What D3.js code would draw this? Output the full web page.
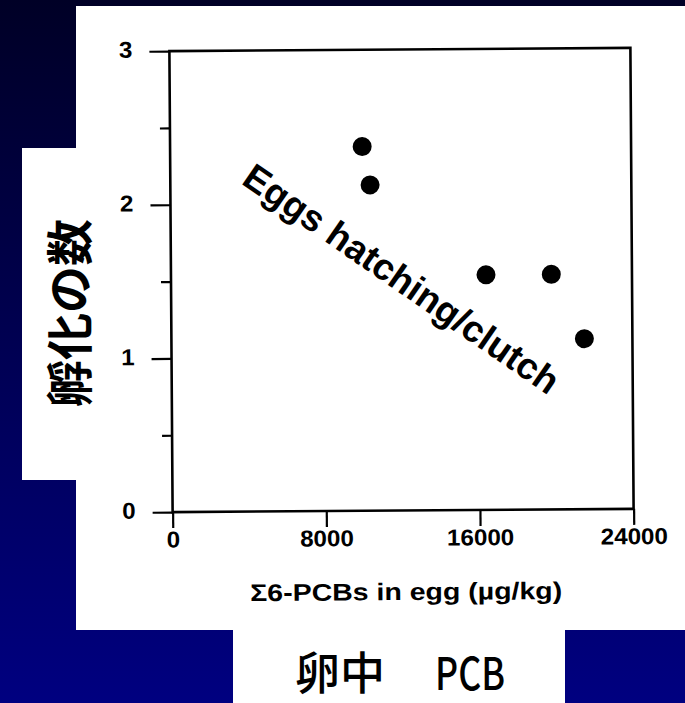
<!DOCTYPE html>
<html><head><meta charset="utf-8">
<script src="https://cdn.jsdelivr.net/npm/d3@7"></script>
<style>html,body{margin:0;padding:0;background:#000050;overflow:hidden}</style>
</head><body>
<script>
// ---- data ----
const pcb = [10000, 10400, 16400, 19800, 21500];
const hatch = [2.37, 2.12, 1.53, 1.53, 1.11];
const xTicks = [0, 8000, 16000, 24000];
const yMajor = [0, 1, 2, 3];
const yMinor = [0.5, 1.5, 2.5];
const xTitle = "Σ6-PCBs in egg (µg/kg)";
const yTitleJa = "孵化の数";
const xTitleJa = ["卵中", "PCB"];
const annotation = "Eggs hatching/clutch";

const W = 685, H = 703;
const svg = d3.select("body").append("svg").attr("width", W).attr("height", H);
const defs = svg.append("defs");
const grad = defs.append("linearGradient").attr("id", "bg")
  .attr("x1", 0).attr("y1", 0).attr("x2", 0).attr("y2", 1);
grad.append("stop").attr("offset", "0%").attr("stop-color", "#000026");
grad.append("stop").attr("offset", "100%").attr("stop-color", "#000080");
svg.append("rect").attr("width", W).attr("height", H).attr("fill", "url(#bg)");
svg.append("rect").attr("x", 22).attr("y", 148).attr("width", 60).attr("height", 332).attr("fill", "#fff");
svg.append("rect").attr("x", 76).attr("y", 6).attr("width", W - 76).attr("height", 624).attr("fill", "#fff");
svg.append("rect").attr("x", 233).attr("y", 628).attr("width", 332).attr("height", H - 628).attr("fill", "#fff");

const L = 171, R = 632, T = 49.5, B = 510.5;
const x = d3.scaleLinear().domain([0, 24000]).range([L, R]);
const y = d3.scaleLinear().domain([0, 3]).range([B, T]);
const g = svg.append("g").attr("transform", "rotate(-0.4,401,280)");

const font = "'Liberation Sans', Arial, Helvetica, sans-serif";

// y minor
const yMin = g.append("g").attr("transform", `translate(${L},0)`)
  .call(d3.axisLeft(y).tickValues(yMinor).tickSize(10).tickFormat(""));
// y major
const yAx = g.append("g").attr("transform", `translate(${L},0)`)
  .call(d3.axisLeft(y).tickValues(yMajor).tickSize(20).tickPadding(18).tickFormat(d3.format("d")));
yAx.selectAll("text").attr("x", -37 / 1.05).attr("y", -1.5).attr("transform", "scale(1.05,1)");
// x axis
const xAx = g.append("g").attr("transform", `translate(0,${B})`)
  .call(d3.axisBottom(x).tickValues(xTicks).tickSize(16).tickPadding(3).tickFormat(d3.format("d")));
xAx.selectAll("text").attr("transform", "scale(1.05,1)");

[yMin, yAx, xAx].forEach(a => {
  a.select(".domain").remove();
  a.selectAll("line").attr("stroke", "#000").attr("stroke-width", 2.2);
  a.selectAll("text").attr("fill", "#000").attr("font-family", null).attr("font-size", null)
    .style("font-family", font).style("font-size", "23px").style("font-weight", "bold");
});

// frame
g.append("rect").attr("x", L).attr("y", T).attr("width", R - L).attr("height", B - T)
  .attr("fill", "none").attr("stroke", "#000").attr("stroke-width", 2.6);

// points
g.selectAll("circle.pt").data(pcb.map((v, i) => [v, hatch[i]])).enter().append("circle")
  .attr("class", "pt").attr("cx", d => x(d[0])).attr("cy", d => y(d[1])).attr("r", 9.5).attr("fill", "#000");

// annotation
g.append("text").attr("transform", "translate(241,182) rotate(35)")
  .style("font-family", font).style("font-size", "37px").style("font-weight", "bold")
  .attr("fill", "#000").text(annotation);

// x title
g.append("text").attr("x", 404).attr("y", 600).attr("text-anchor", "middle")
  .attr("textLength", 312).attr("lengthAdjust", "spacingAndGlyphs")
  .style("font-family", font).style("font-size", "24px").style("font-weight", "bold")
  .attr("fill", "#000").text(xTitle);

// Japanese titles
const jfont = "'Noto Sans CJK JP', 'Noto Sans CJK SC', sans-serif";
svg.append("text").attr("transform", "translate(66,313) rotate(-90)")
  .attr("text-anchor", "middle").attr("dominant-baseline", "central")
  .style("font-family", jfont).style("font-size", "47px").style("font-weight", "bold")
  .attr("fill", "#000").text(yTitleJa);
svg.append("text").attr("x", 295).attr("y", 690)
  .style("font-family", jfont).style("font-size", "45px").style("font-weight", "500")
  .attr("fill", "#000").text(xTitleJa[0]);
svg.append("text").attr("x", 435).attr("y", 690)
  .attr("textLength", 70).attr("lengthAdjust", "spacingAndGlyphs")
  .style("font-family", jfont).style("font-size", "45px").style("font-weight", "500")
  .attr("fill", "#000").text(xTitleJa[1]);
</script>
</body></html>
